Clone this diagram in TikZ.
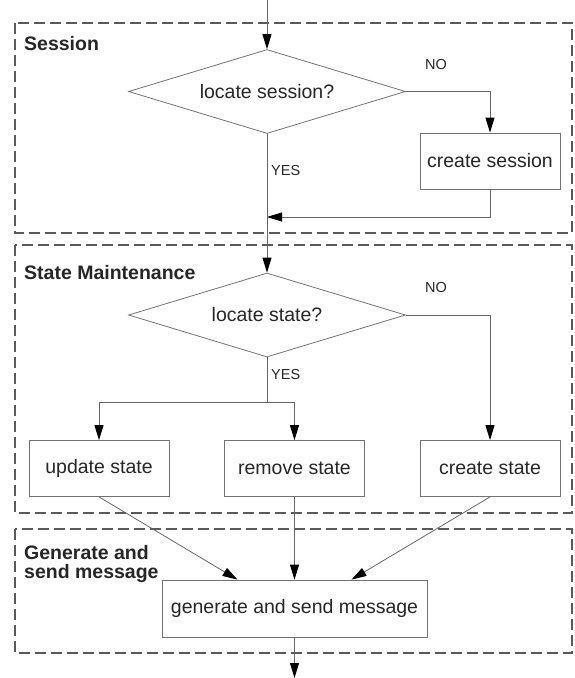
\documentclass[tikz,border=0pt]{standalone}
\usepackage{fontspec}
\setmainfont{Liberation Sans}
\usetikzlibrary{shapes.geometric,arrows.meta,calc}

\tikzset{
  group/.style={draw=black!65,line width=1.5pt,dash pattern=on 11pt off 5pt},
  grouplabel/.style={anchor=west,inner sep=0pt,align=left,text=black!85,
    font=\fontsize{19.5}{19.5}\selectfont\bfseries},
  stepbox/.style={draw=black!55,line width=0.8pt,minimum width=140pt,minimum height=56pt,
    inner sep=0pt,text=black!85,font=\fontsize{19.5}{22}\selectfont},
  decision/.style={diamond,aspect=3.3,draw=black!55,line width=0.8pt,minimum width=277pt,
    minimum height=84pt,inner sep=0pt,text=black!85,font=\fontsize{19.5}{22}\selectfont},
  answer/.style={anchor=west,inner sep=0pt,text=black!85,font=\fontsize{14.5}{17}\selectfont},
  arr/.style={-{Triangle[length=15pt,width=9pt,color=black]},draw=black!60,line width=0.8pt},
  link/.style={draw=black!60,line width=0.8pt}
}

\begin{document}
\begin{tikzpicture}[x=1pt,y=-1pt]
  \useasboundingbox (0,0) rectangle (574,678);
  % groups
  \draw[group] (15,23) rectangle (572,233);
  \draw[group] (15,245) rectangle (572,513);
  \draw[group] (15,529) rectangle (572,653);
  \node[grouplabel] (lsession) at (24,44) {Session};
  \node[grouplabel] (lstate) at (24,273) {State Maintenance};
  \node[grouplabel] (lgen) at (24,564) {Generate and\\send message};

  % steps
  \node[decision] (locsess) at (267,91.5) {locate session?};
  \node[stepbox] (crsess) at (490,161) {create session};
  \node[decision] (locstate) at (267,315) {locate state?};
  \node[stepbox] (update) at (99,468.5) {update state};
  \node[stepbox] (remove) at (294.5,468.5) {remove state};
  \node[stepbox] (crstate) at (490,468.5) {create state};
  \node[stepbox,minimum width=265pt,minimum height=57pt] (gen) at (294.5,608.5) {generate and send message};

  \coordinate (in) at (267,0);
  \coordinate (join) at (267,217);
  \coordinate (split) at (267,402);
  \coordinate (out) at (294.5,678);

  % connectors
  \draw[arr] (in) -- (locsess.north);
  \draw[arr] (locsess.east) -| (crsess.north);
  \draw[arr] (crsess.south) |- (join);
  \draw[arr] (locsess.south) -- (locstate.north);
  \draw[arr] (locstate.east) -| (crstate.north);
  \draw[link] (locstate.south) -- (split);
  \draw[arr] (split) -| (update.north);
  \draw[arr] (split) -| (remove.north);
  \draw[arr] (update.south) -- ([xshift=-57pt]gen.north);
  \draw[arr] (remove.south) -- (gen.north);
  \draw[arr] (crstate.south) -- ([xshift=57pt]gen.north);
  \draw[arr] (gen.south) -- (out);

  \node[answer] (no1) at (425,65) {NO};
  \node[answer] (yes1) at (271,171) {YES};
  \node[answer] (no2) at (425,288) {NO};
  \node[answer] (yes2) at (271,375) {YES};
\end{tikzpicture}
\end{document}
